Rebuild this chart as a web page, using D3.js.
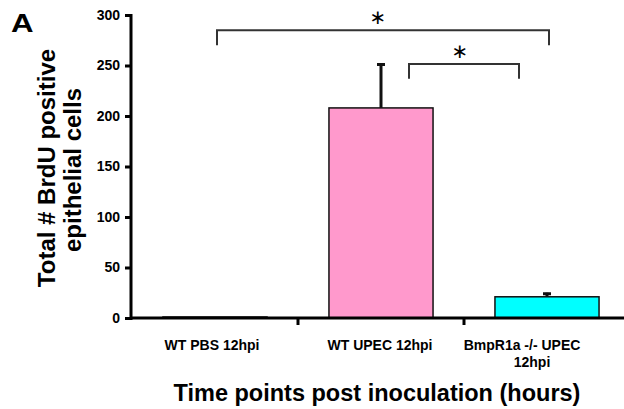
<!DOCTYPE html>
<html><head><meta charset="utf-8">
<script src="https://cdn.jsdelivr.net/npm/d3@7"></script>
<style>body{margin:0;background:#fff}svg{display:block}text{font-family:"Liberation Sans",Arial,sans-serif;font-weight:bold;fill:#000}</style>
</head><body>
<svg id="c" width="624" height="409"></svg>
<script>
const categories = ["WT PBS 12hpi", "WT UPEC 12hpi", "BmpR1a -/- UPEC 12hpi"];
const values = [1, 208, 21];
const errors = [0, 44, 4];
const colors = ["#FF99CC", "#FF99CC", "#00FFFF"];
const yTicks = [0, 50, 100, 150, 200, 250, 300];
const brackets = [
  {from: 0, to: 2, top: 285, bottom: 270, label: "*"},
  {from: 1, to: 2, top: 251.5, bottom: 237, label: "*"}
];

const svg = d3.select("#c");
const x = d3.scaleBand().domain(categories).range([132, 630]).padding(0);
const y = d3.scaleLinear().domain([0, 300]).range([318, 15]);
const bw = x.bandwidth() * 0.627;
const cx = d => x(d) + x.bandwidth() / 2;

// bars
svg.selectAll("rect.bar").data(categories).join("rect")
  .attr("x", d => cx(d) - bw / 2)
  .attr("y", (d, i) => y(values[i]))
  .attr("width", bw)
  .attr("height", (d, i) => y(0) - y(values[i]))
  .attr("fill", (d, i) => colors[i])
  .attr("stroke", "#111").attr("stroke-width", 1.5);

// error bars
categories.forEach((d, i) => {
  if (errors[i] <= 0) return;
  const g = svg.append("g").attr("stroke", "#111").attr("stroke-width", 3);
  g.append("line").attr("x1", cx(d)).attr("x2", cx(d))
    .attr("y1", y(values[i])).attr("y2", y(values[i] + errors[i]));
  g.append("line").attr("x1", cx(d) - 4).attr("x2", cx(d) + 4)
    .attr("y1", y(values[i] + errors[i]) + 1).attr("y2", y(values[i] + errors[i]) + 1);
});

// y axis
const yAxis = d3.axisLeft(y).tickValues(yTicks).tickSize(6).tickPadding(5);
const ga = svg.append("g").attr("transform", "translate(131,0)").call(yAxis);
ga.select(".domain").attr("stroke", "#000").attr("stroke-width", 3).attr("d", `M0,${y(300)-1}V${y(0)+2}`);
ga.selectAll(".tick line").attr("stroke", "#000").attr("stroke-width", 3);
ga.selectAll(".tick text").style("font-size", "14px").style("font-family", "Liberation Sans, Arial, sans-serif").style("font-weight", "bold");

// x axis
const gx = svg.append("g").attr("transform", "translate(0,318)");
gx.append("line").attr("x1", 130).attr("x2", 624).attr("stroke", "#000").attr("stroke-width", 3);
categories.slice(1).forEach(d => {
  gx.append("line").attr("x1", x(d)).attr("x2", x(d)).attr("y1", 0).attr("y2", 7)
    .attr("stroke", "#000").attr("stroke-width", 3);
});

// x tick labels
const xl = svg.append("g");
const labelLines = [["WT PBS 12hpi"], ["WT UPEC 12hpi"], ["BmpR1a -/- UPEC", "12hpi"]];
const labelShift = [[-3], [-1], [-25, -15]];
categories.forEach((d, i) => {
  const t = xl.append("text").attr("text-anchor", "middle").style("font-size", "14px")
    .attr("y", 350);
  labelLines[i].forEach((ln, j) => {
    t.append("tspan").attr("x", cx(d) + labelShift[i][j]).attr("dy", j === 0 ? 0 : 17).text(ln);
  });
});

// brackets
brackets.forEach(b => {
  const inner = (b.from === 1);
  const x1 = cx(categories[b.from]) + (inner ? 28 : 2);
  const x2 = cx(categories[b.to]) + (inner ? -28 : 2);
  svg.append("path")
    .attr("d", `M${x1},${y(b.bottom)}V${y(b.top)}H${x2}V${y(b.bottom)}`)
    .attr("fill", "none").attr("stroke", "#333").attr("stroke-width", 2);
  svg.append("text").attr("text-anchor", "middle")
    .attr("x", (x1 + x2) / 2 - (inner ? 4 : 5)).attr("y", y(b.top) - 6)
    .style("font-family", "DejaVu Sans, sans-serif").style("font-weight", "normal")
    .style("font-size", "20px").text(b.label === "*" ? "\u2217" : b.label);
});

// y title
svg.append("text").attr("text-anchor", "middle").style("font-size", "24px")
  .attr("transform", "translate(55,168) rotate(-90)").text("Total # BrdU positive");
svg.append("text").attr("text-anchor", "middle").style("font-size", "24px")
  .attr("transform", "translate(81,170) rotate(-90)").text("epithelial cells");

// x title
svg.append("text").attr("text-anchor", "middle").style("font-size", "23.5px")
  .attr("x", 377).attr("y", 401).text("Time points post inoculation (hours)");

// panel letter
svg.append("text").attr("transform", "translate(11,32) scale(1.25,1)").style("font-size", "25px").text("A");
</script>
</body></html>
